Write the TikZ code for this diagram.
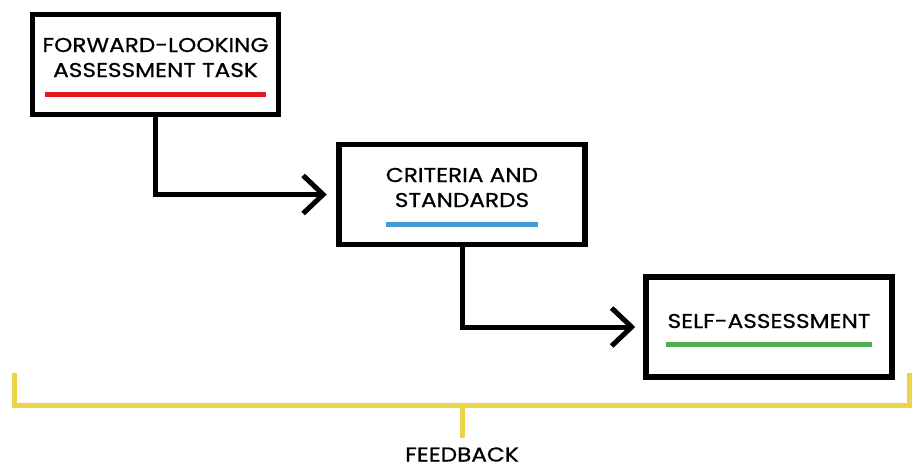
\documentclass[tikz,border=0pt]{standalone}
\usepackage{fontspec}
\setmainfont{Poppins}
\newfontfamily\stagefont{Poppins}[FakeStretch=1.16, FakeBold=0.7]
\usetikzlibrary{arrows.meta}
\definecolor{lineRed}{HTML}{E5191E}
\definecolor{lineBlue}{HTML}{449CD4}
\definecolor{lineGreen}{HTML}{4DAF4F}
\definecolor{bracketYellow}{HTML}{ECD449}
\begin{document}
\begin{tikzpicture}[x=1pt,y=-1pt,
  stage/.style={draw=black, line width=5.5pt, minimum width=246pt, minimum height=100pt, inner sep=0pt, fill=white},
  caption/.style={font=\stagefont\fontsize{20}{20}\selectfont, anchor=base, inner sep=0pt},
  underline/.style={line width=5pt},
  flow/.style={line width=5pt, -{Straight Barb[length=20pt,width=38pt]}},
  brace/.style={draw=bracketYellow, line width=5pt}]
\useasboundingbox (0,0) rectangle (914,463);

% the three stages
\node[stage] (task)     at (155.5,64.5) {};
\node[stage] (criteria) at (462,194.5)  {};
\node[stage] (self)     at (769,327)    {};

% stage captions
\node[caption] (taskA) at (155.5,52)  {FORWARD-LOOKING};
\node[caption] (taskB) at (155.5,77)  {ASSESSMENT TASK};
\node[caption] (critA) at (462,182)   {CRITERIA AND};
\node[caption] (critB) at (462,207)   {STANDARDS};
\node[caption] (selfA) at (769,328)   {SELF-ASSESSMENT};

% coloured underlines
\draw[underline, lineRed]   (45,94.5)  -- (266,94.5);
\draw[underline, lineBlue]  (386,224.5) -- (538,224.5);
\draw[underline, lineGreen] (666,344)  -- (872,344);

% flow between stages
\draw[flow, shorten >=9.5pt] (task.south) |- (criteria.west);
\draw[flow, shorten >=8pt] (criteria.south) |- (self.west);

% feedback bracket
\coordinate (brL) at (14.7,373);
\coordinate (brR) at (909,373);
\coordinate (brMid) at (462,405.5);
\coordinate (brStem) at (462,437.5);
\draw[brace] (brL) |- (brMid) -| (brR);
\draw[brace] (brMid) -- (brStem);
\node[caption] (feedback) at (462,461.5) {FEEDBACK};
\end{tikzpicture}
\end{document}
